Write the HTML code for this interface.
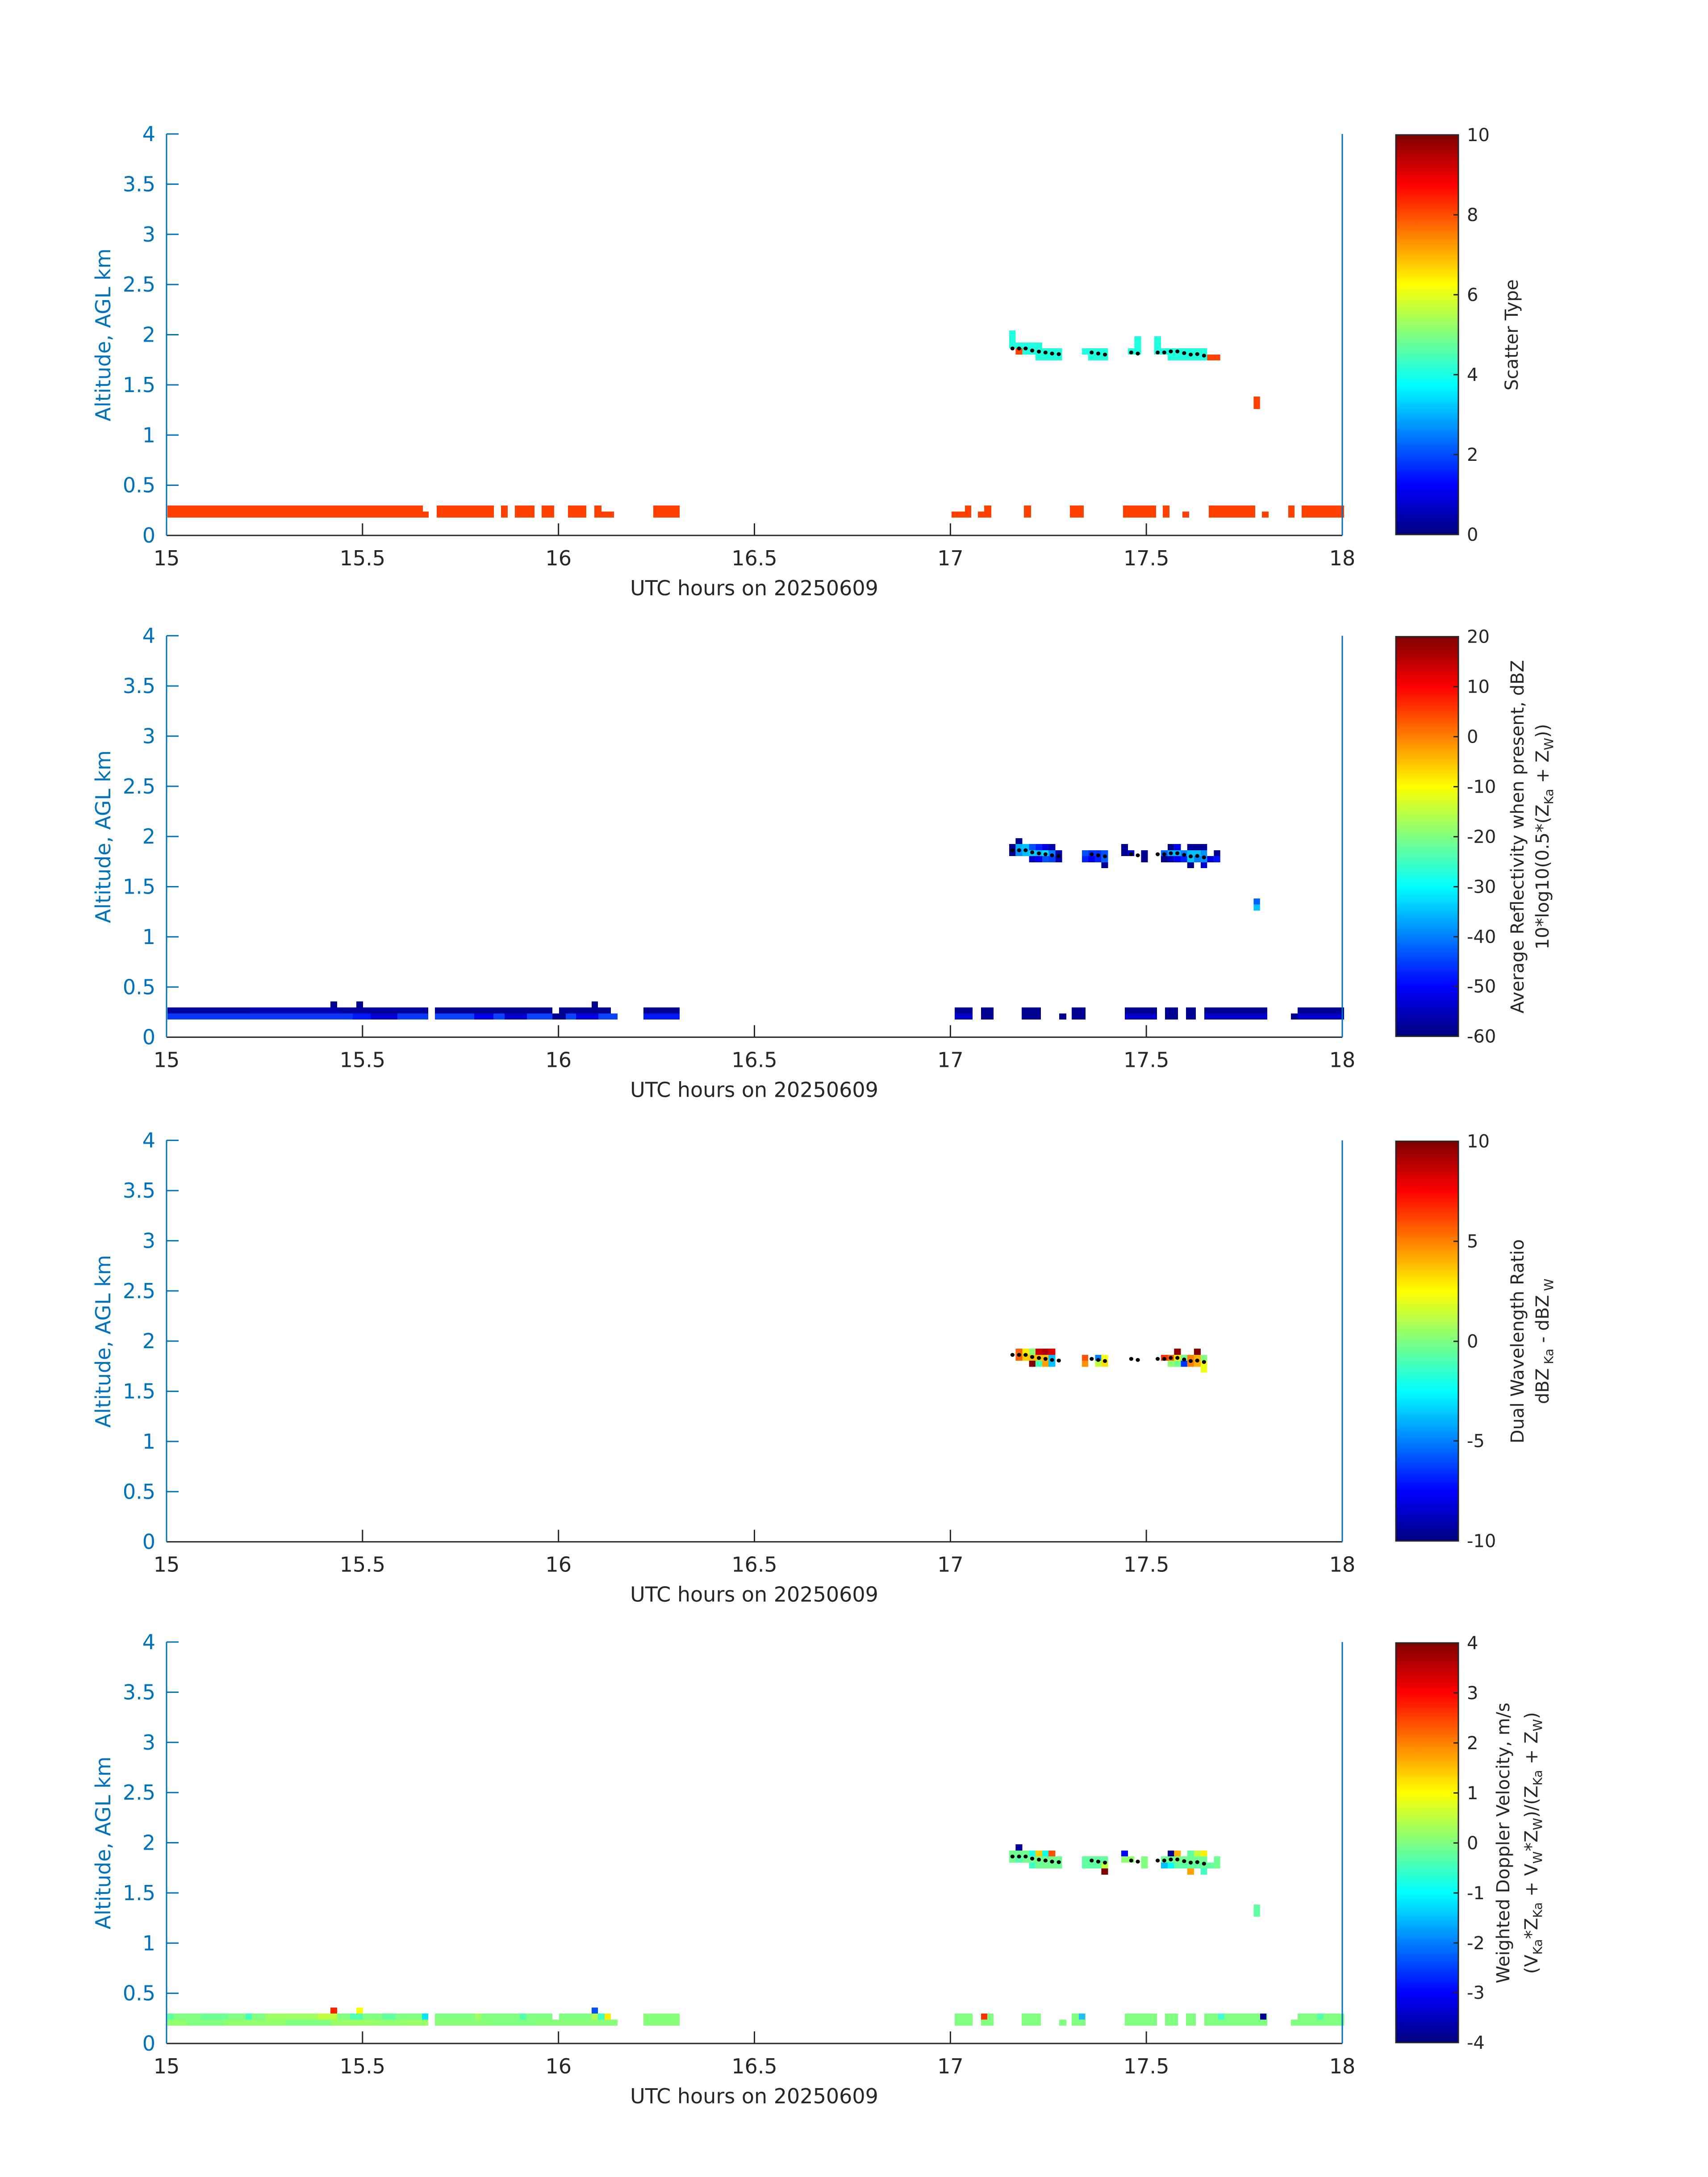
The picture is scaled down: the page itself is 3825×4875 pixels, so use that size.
<!DOCTYPE html>
<html><head><meta charset="utf-8"><style>
html,body{margin:0;padding:0;background:#fff}
svg{display:block}
text{font-family:"DejaVu Sans","Liberation Sans",sans-serif}
.yt{fill:#0072BD;font-size:46px;text-anchor:end}
.xt{fill:#262626;font-size:46px;text-anchor:middle}
.ct{fill:#262626;font-size:40px}
.cl{fill:#262626;font-size:40px;text-anchor:middle}
</style></head><body>
<svg width="3825" height="4875" viewBox="0 0 3825 4875" xmlns="http://www.w3.org/2000/svg">
<defs>
<linearGradient id="jet" x1="0" y1="1" x2="0" y2="0">
<stop offset="0" stop-color="#00007f"/><stop offset="0.125" stop-color="#0000ff"/>
<stop offset="0.375" stop-color="#00ffff"/><stop offset="0.625" stop-color="#ffff00"/>
<stop offset="0.875" stop-color="#ff0000"/><stop offset="1" stop-color="#7f0000"/>
</linearGradient>
<g id="dots" fill="#000">
<g transform="translate(2250,700) scale(0.3871,0.3333)">
<ellipse cx="45" cy="241" rx="12" ry="13"/><ellipse cx="83" cy="241" rx="12" ry="13"/><ellipse cx="121" cy="241" rx="12" ry="13"/><ellipse cx="159" cy="255" rx="12" ry="13"/><ellipse cx="198" cy="262" rx="12" ry="13"/><ellipse cx="236" cy="268" rx="12" ry="13"/><ellipse cx="274" cy="275" rx="12" ry="13"/><ellipse cx="313" cy="279" rx="12" ry="13"/><ellipse cx="503" cy="268" rx="12" ry="13"/><ellipse cx="541" cy="275" rx="12" ry="13"/><ellipse cx="580" cy="282" rx="12" ry="13"/><ellipse cx="732" cy="268" rx="12" ry="13"/><ellipse cx="770" cy="275" rx="12" ry="13"/><ellipse cx="885" cy="268" rx="12" ry="13"/><ellipse cx="923" cy="268" rx="12" ry="13"/><ellipse cx="961" cy="261" rx="12" ry="13"/><ellipse cx="999" cy="261" rx="12" ry="13"/><ellipse cx="1038" cy="272" rx="12" ry="13"/><ellipse cx="1076" cy="282" rx="12" ry="13"/><ellipse cx="1114" cy="279" rx="12" ry="13"/><ellipse cx="1153" cy="289" rx="12" ry="13"/>
</g></g>
</defs>
<rect width="3825" height="4875" fill="#fff"/>

<!-- ============ PANEL 1 DATA ============ -->
<g fill="#ff4000">
<rect x="375" y="1132" width="572" height="27"/><rect x="947" y="1145.5" width="13" height="13.5"/>
<rect x="978" y="1132" width="128" height="27"/><rect x="1122" y="1132" width="15" height="27"/>
<rect x="1153" y="1132" width="44" height="27"/><rect x="1213" y="1132" width="28" height="27"/>
<rect x="1272" y="1132" width="41" height="27"/><rect x="1331" y="1132" width="16" height="27"/>
<rect x="1347" y="1145.5" width="28" height="13.5"/><rect x="1463" y="1132" width="59" height="27"/>
<rect x="2131" y="1145.5" width="30" height="13.5"/><rect x="2161" y="1132" width="14" height="27"/>
<rect x="2190" y="1145.5" width="14" height="13.5"/><rect x="2204" y="1132" width="16" height="27"/>
<rect x="2293" y="1132" width="16" height="27"/><rect x="2396" y="1132" width="31" height="27"/>
<rect x="2515" y="1132" width="74" height="27"/><rect x="2604" y="1132" width="15" height="27"/>
<rect x="2648" y="1145.5" width="15" height="13.5"/><rect x="2707" y="1132" width="104" height="27"/>
<rect x="2826" y="1145.5" width="15" height="13.5"/><rect x="2885" y="1132" width="14" height="27"/>
<rect x="2915" y="1132" width="95" height="27"/>
</g>
<g transform="translate(2250,700) scale(0.3871,0.3333)">
<g fill="#1effe0">
<rect x="26" y="120" width="37" height="120"/><rect x="63" y="201" width="154" height="39"/>
<rect x="102" y="240" width="230" height="42"/><rect x="178" y="282" width="154" height="39"/>
<rect x="447" y="240" width="151" height="42"/><rect x="483" y="282" width="115" height="39"/>
<rect x="713" y="240" width="76" height="42"/><rect x="750" y="159" width="39" height="81"/>
<rect x="865" y="159" width="39" height="81"/><rect x="865" y="240" width="306" height="42"/>
<rect x="943" y="282" width="228" height="39"/>
</g>
<g fill="#ff4000">
<rect x="63" y="240" width="39" height="42"/><rect x="1171" y="282" width="76" height="39"/>
<rect x="1440" y="564" width="37" height="84"/>
</g></g>
<use href="#dots"/>

<!-- ============ PANEL 2 DATA ============ -->
<g>
<rect x="375" y="2256" width="584" height="13.5" fill="#00009c"/>
<rect x="375" y="2269.5" width="584" height="13.5" fill="#0a38ff"/>
<rect x="560" y="2256" width="200" height="13.5" fill="#0000b0"/>
<rect x="790" y="2269.5" width="60" height="13.5" fill="#0018ff"/>
<rect x="830" y="2269.5" width="60" height="13.5" fill="#0000d0"/>
<rect x="974" y="2256" width="263" height="13.5" fill="#000090"/>
<rect x="974" y="2269.5" width="409" height="13.5" fill="#0a40ff"/>
<rect x="1062" y="2269.5" width="43" height="13.5" fill="#0000e8"/>
<rect x="1130" y="2269.5" width="50" height="13.5" fill="#0000c8"/>
<rect x="1237" y="2269.5" width="30" height="13.5" fill="#000090"/>
<rect x="1252" y="2256" width="116" height="13.5" fill="#000090"/>
<rect x="1290" y="2269.5" width="50" height="13.5" fill="#0000e0"/>
<rect x="1441" y="2256" width="81" height="13.5" fill="#000090"/>
<rect x="1441" y="2269.5" width="81" height="13.5" fill="#0018ff"/>
<g fill="#000090">
<rect x="740" y="2242.5" width="15" height="13.5"/><rect x="798" y="2242.5" width="15" height="13.5"/><rect x="1325" y="2242.5" width="14" height="13.5"/>
<rect x="2138" y="2256" width="40" height="27"/><rect x="2197" y="2256" width="28" height="27"/>
<rect x="2288" y="2256" width="43" height="27"/><rect x="2372" y="2269.5" width="16" height="13.5"/>
<rect x="2400" y="2256" width="31" height="27"/><rect x="2519" y="2256" width="72" height="27"/>
<rect x="2609" y="2256" width="29" height="27"/><rect x="2656" y="2256" width="22" height="27"/>
<rect x="2697" y="2256" width="141" height="27"/><rect x="2891" y="2269.5" width="15" height="13.5"/>
<rect x="2906" y="2256" width="104" height="27"/>
</g>
<g fill="#0000c8">
<rect x="2138" y="2269.5" width="40" height="13.5"/><rect x="2519" y="2269.5" width="72" height="13.5"/>
<rect x="2697" y="2269.5" width="141" height="13.5"/><rect x="2906" y="2269.5" width="104" height="13.5"/>
</g>
</g>
<g transform="translate(2250,1850) scale(0.3871,0.3333)">
<rect x="63" y="81" width="39" height="39" fill="#000090"/>
<rect x="26" y="120" width="37" height="81" fill="#000090"/>
<rect x="63" y="120" width="39" height="42" fill="#00b0ff"/><rect x="102" y="120" width="39" height="42" fill="#00c0ff"/>
<rect x="141" y="120" width="37" height="42" fill="#0050ff"/><rect x="178" y="120" width="39" height="42" fill="#0020ff"/>
<rect x="217" y="120" width="36" height="42" fill="#0000e0"/><rect x="253" y="120" width="40" height="42" fill="#0000b0"/>
<rect x="63" y="162" width="39" height="39" fill="#0090ff"/><rect x="102" y="162" width="39" height="39" fill="#00c0ff"/>
<rect x="141" y="162" width="37" height="39" fill="#00d0ff"/><rect x="178" y="162" width="39" height="39" fill="#00c0ff"/>
<rect x="217" y="162" width="36" height="39" fill="#00e0ff"/><rect x="253" y="162" width="40" height="39" fill="#0080ff"/>
<rect x="293" y="162" width="39" height="81" fill="#0000b0"/>
<rect x="141" y="201" width="37" height="42" fill="#0000d0"/><rect x="178" y="201" width="39" height="42" fill="#0000f0"/>
<rect x="217" y="201" width="36" height="42" fill="#0050ff"/><rect x="253" y="201" width="40" height="42" fill="#0040ff"/>
<rect x="447" y="162" width="36" height="39" fill="#0050ff"/><rect x="483" y="162" width="40" height="39" fill="#0030ff"/>
<rect x="523" y="162" width="36" height="39" fill="#0030ff"/><rect x="559" y="162" width="39" height="39" fill="#0050ff"/>
<rect x="447" y="201" width="36" height="42" fill="#0020ff"/><rect x="483" y="201" width="40" height="42" fill="#0000f0"/>
<rect x="523" y="201" width="36" height="42" fill="#0020ff"/><rect x="559" y="201" width="39" height="42" fill="#0060ff"/>
<rect x="559" y="243" width="39" height="39" fill="#000090"/>
<rect x="674" y="120" width="39" height="81" fill="#000090"/><rect x="713" y="162" width="37" height="39" fill="#0000d0"/>
<rect x="789" y="162" width="39" height="81" fill="#000090"/>
<rect x="943" y="120" width="37" height="42" fill="#000090"/><rect x="980" y="120" width="39" height="42" fill="#0000f0"/>
<rect x="1056" y="120" width="115" height="42" fill="#000098"/>
<rect x="904" y="162" width="39" height="39" fill="#0060ff"/><rect x="943" y="162" width="76" height="39" fill="#00b0ff"/>
<rect x="1019" y="162" width="37" height="39" fill="#0080ff"/><rect x="1056" y="162" width="78" height="39" fill="#00c0ff"/>
<rect x="1134" y="162" width="37" height="39" fill="#0090ff"/><rect x="1210" y="162" width="37" height="39" fill="#000090"/>
<rect x="904" y="201" width="39" height="42" fill="#000090"/><rect x="943" y="201" width="37" height="42" fill="#0000c0"/>
<rect x="980" y="201" width="39" height="42" fill="#0000ff"/><rect x="1019" y="201" width="37" height="42" fill="#0020ff"/>
<rect x="1056" y="201" width="39" height="42" fill="#00c0ff"/><rect x="1095" y="201" width="39" height="42" fill="#0080ff"/>
<rect x="1134" y="201" width="37" height="42" fill="#0090ff"/><rect x="1171" y="201" width="39" height="42" fill="#0000e0"/>
<rect x="1210" y="201" width="37" height="42" fill="#0010ff"/>
<rect x="1056" y="243" width="39" height="39" fill="#000090"/><rect x="1134" y="243" width="37" height="39" fill="#0000d0"/>
<rect x="1440" y="486" width="37" height="41" fill="#0060ff"/><rect x="1440" y="527" width="37" height="40" fill="#00c0ff"/>
</g>
<use href="#dots" transform="translate(0,1123.67)"/>

<!-- ============ PANEL 3 DATA ============ -->
<g transform="translate(2250,3000) scale(0.3871,0.3333)">
<rect x="63" y="60" width="39" height="81" fill="#ff6000"/>
<rect x="102" y="60" width="39" height="42" fill="#ffee00"/><rect x="141" y="60" width="37" height="42" fill="#90ff70"/>
<rect x="178" y="60" width="39" height="42" fill="#d00000"/><rect x="217" y="60" width="36" height="42" fill="#b00000"/>
<rect x="253" y="60" width="40" height="42" fill="#e00000"/>
<rect x="102" y="102" width="39" height="39" fill="#ffcc00"/><rect x="141" y="102" width="112" height="39" fill="#ffc000"/>
<rect x="253" y="102" width="40" height="80" fill="#00c0ff"/>
<rect x="141" y="141" width="37" height="41" fill="#800000"/><rect x="178" y="141" width="39" height="41" fill="#40ffc0"/>
<rect x="217" y="141" width="36" height="41" fill="#ffa000"/>
<rect x="447" y="102" width="36" height="39" fill="#ff5000"/><rect x="447" y="141" width="36" height="41" fill="#ff9000"/>
<rect x="523" y="102" width="36" height="39" fill="#0080ff"/><rect x="559" y="102" width="39" height="39" fill="#ffff10"/>
<rect x="523" y="141" width="36" height="41" fill="#c0ff40"/><rect x="559" y="141" width="39" height="41" fill="#ffe000"/>
<rect x="980" y="60" width="39" height="42" fill="#900000"/><rect x="1095" y="60" width="39" height="42" fill="#800000"/>
<rect x="904" y="102" width="39" height="39" fill="#ff3000"/><rect x="943" y="102" width="37" height="39" fill="#ff6000"/>
<rect x="980" y="102" width="39" height="39" fill="#ffee00"/><rect x="1019" y="102" width="37" height="39" fill="#70ff90"/>
<rect x="1056" y="102" width="39" height="80" fill="#ff8000"/><rect x="1095" y="102" width="39" height="80" fill="#ffb000"/>
<rect x="1134" y="102" width="37" height="39" fill="#80ff80"/>
<rect x="943" y="141" width="37" height="41" fill="#90ff70"/><rect x="980" y="141" width="39" height="41" fill="#70ff90"/>
<rect x="1019" y="141" width="37" height="41" fill="#0030ff"/><rect x="1134" y="141" width="37" height="80" fill="#f0ff10"/>
</g>
<use href="#dots" transform="translate(0,2253.67)"/>

<!-- ============ PANEL 4 DATA ============ -->
<g>
<rect x="375" y="4509" width="584" height="13.5" fill="#80ff80"/>
<rect x="375" y="4522.5" width="584" height="13.5" fill="#90ff70"/>
<rect x="974" y="4509" width="263" height="13.5" fill="#80ff80"/>
<rect x="974" y="4522.5" width="409" height="13.5" fill="#88ff78"/>
<rect x="1252" y="4509" width="116" height="13.5" fill="#80ff80"/>
<rect x="1441" y="4509" width="81" height="27" fill="#88ff78"/>
<rect x="375" y="4509" width="14" height="13.5" fill="#60ffa0"/>
<rect x="550" y="4509" width="14" height="13.5" fill="#40ffc0"/>
<rect x="450" y="4509" width="60" height="13.5" fill="#6cff94"/>
<rect x="594" y="4509" width="120" height="13.5" fill="#a0ff60"/>
<rect x="712" y="4509" width="43" height="13.5" fill="#c0ff40"/>
<rect x="784" y="4509" width="28" height="13.5" fill="#50ffb0"/>
<rect x="856" y="4509" width="30" height="13.5" fill="#60ffa0"/>
<rect x="945" y="4509" width="14" height="13.5" fill="#00e8ff"/>
<rect x="1064" y="4509" width="14" height="13.5" fill="#a0ff60"/>
<rect x="1164" y="4509" width="14" height="13.5" fill="#50ffb0"/>
<rect x="1325" y="4509" width="14" height="13.5" fill="#b0ff50"/>
<rect x="1339" y="4509" width="15" height="13.5" fill="#40ffc0"/>
<rect x="1354" y="4509" width="14" height="13.5" fill="#ffee00"/>
<rect x="420" y="4522.5" width="80" height="13.5" fill="#80ff80"/>
<rect x="640" y="4522.5" width="100" height="13.5" fill="#80ff80"/>
<rect x="740" y="4522.5" width="100" height="13.5" fill="#98ff68"/>
<rect x="900" y="4522.5" width="59" height="13.5" fill="#98ff68"/>
<rect x="1100" y="4522.5" width="100" height="13.5" fill="#80ff80"/>
<rect x="740" y="4495.5" width="15" height="13.5" fill="#ff2000"/>
<rect x="798" y="4495.5" width="15" height="13.5" fill="#ffff00"/>
<rect x="1325" y="4495.5" width="14" height="13.5" fill="#0050ff"/>
<g fill="#80ff80">
<rect x="2138" y="4509" width="40" height="27"/><rect x="2197" y="4509" width="28" height="27"/>
<rect x="2288" y="4509" width="43" height="27"/><rect x="2372" y="4522.5" width="16" height="13.5"/>
<rect x="2400" y="4509" width="31" height="27"/><rect x="2519" y="4509" width="72" height="27"/>
<rect x="2609" y="4509" width="29" height="27"/><rect x="2656" y="4509" width="22" height="27"/>
<rect x="2697" y="4509" width="141" height="27"/><rect x="2891" y="4522.5" width="15" height="13.5"/>
<rect x="2906" y="4509" width="104" height="27"/>
</g>
<rect x="2197" y="4509" width="14" height="13.5" fill="#ff3000"/>
<rect x="2416" y="4509" width="14" height="13.5" fill="#20c0ff"/>
<rect x="2728" y="4509" width="14" height="13.5" fill="#40ffd0"/>
<rect x="2822" y="4509" width="14" height="13.5" fill="#000090"/>
<rect x="2950" y="4509" width="14" height="13.5" fill="#50ffb0"/>
</g>
<g transform="translate(2250,4120) scale(0.3871,0.3333)">
<rect x="63" y="30" width="39" height="42" fill="#000098"/>
<rect x="26" y="72" width="115" height="39" fill="#70ff90"/><rect x="141" y="72" width="37" height="39" fill="#20ffe0"/>
<rect x="178" y="72" width="39" height="39" fill="#ffcc00"/><rect x="217" y="72" width="36" height="39" fill="#10ffe8"/>
<rect x="253" y="72" width="40" height="39" fill="#ff5000"/>
<rect x="26" y="111" width="306" height="42" fill="#70ff90"/><rect x="63" y="111" width="39" height="42" fill="#50ffb0"/>
<rect x="141" y="153" width="37" height="39" fill="#40ffc0"/><rect x="178" y="153" width="154" height="39" fill="#70ff90"/>
<rect x="447" y="111" width="151" height="81" fill="#60ffa0"/><rect x="559" y="153" width="39" height="39" fill="#c0ff30"/>
<rect x="559" y="192" width="39" height="42" fill="#800000"/>
<rect x="674" y="72" width="39" height="39" fill="#0000ff"/><rect x="674" y="111" width="76" height="42" fill="#90ff70"/>
<rect x="789" y="111" width="39" height="81" fill="#80ff80"/>
<rect x="943" y="72" width="37" height="39" fill="#000090"/><rect x="980" y="72" width="39" height="39" fill="#ffb000"/>
<rect x="1056" y="72" width="39" height="39" fill="#60ffa0"/><rect x="1095" y="72" width="39" height="39" fill="#c0ff40"/>
<rect x="1134" y="72" width="37" height="39" fill="#ffee00"/>
<rect x="904" y="111" width="267" height="42" fill="#70ff90"/><rect x="1210" y="111" width="37" height="81" fill="#70ff90"/>
<rect x="904" y="153" width="39" height="39" fill="#00c0ff"/><rect x="943" y="153" width="37" height="39" fill="#00ffff"/>
<rect x="980" y="153" width="230" height="39" fill="#60ffa0"/>
<rect x="1056" y="192" width="39" height="42" fill="#ffa000"/><rect x="1134" y="192" width="37" height="42" fill="#40ffc0"/>
<rect x="1440" y="435" width="37" height="81" fill="#60ffa0"/>
</g>
<use href="#dots" transform="translate(0,3377)"/>

<!-- ============ AXES (4 panels) ============ -->
<!-- Panel 1 -->
<g>
<line x1="373" y1="1199" x2="3006" y2="1199" stroke="#262626" stroke-width="3"/>
<line x1="373" y1="300" x2="373" y2="1199" stroke="#0072BD" stroke-width="3"/>
<line x1="3006" y1="300" x2="3006" y2="1199" stroke="#0072BD" stroke-width="3"/>
<g stroke="#0072BD" stroke-width="3">
<line x1="373" x2="400" y1="1086.6" y2="1086.6"/><line x1="373" x2="400" y1="974.25" y2="974.25"/><line x1="373" x2="400" y1="861.9" y2="861.9"/><line x1="373" x2="400" y1="749.5" y2="749.5"/><line x1="373" x2="400" y1="637.1" y2="637.1"/><line x1="373" x2="400" y1="524.75" y2="524.75"/><line x1="373" x2="400" y1="412.4" y2="412.4"/><line x1="373" x2="400" y1="300" y2="300"/>
</g>
<g stroke="#262626" stroke-width="3">
<line x1="811.8" x2="811.8" y1="1199" y2="1172"/><line x1="1250.7" x2="1250.7" y1="1199" y2="1172"/><line x1="1689.5" x2="1689.5" y1="1199" y2="1172"/><line x1="2128.4" x2="2128.4" y1="1199" y2="1172"/><line x1="2567.2" x2="2567.2" y1="1199" y2="1172"/>
</g>
<g class="yt"><text x="348" y="1215">0</text><text x="348" y="1102.6">0.5</text><text x="348" y="990.25">1</text><text x="348" y="877.9">1.5</text><text x="348" y="765.5">2</text><text x="348" y="653.1">2.5</text><text x="348" y="540.75">3</text><text x="348" y="428.4">3.5</text><text x="348" y="316">4</text></g>
<g class="xt"><text x="373" y="1266">15</text><text x="811.8" y="1266">15.5</text><text x="1250.7" y="1266">16</text><text x="1689.5" y="1266">16.5</text><text x="2128.4" y="1266">17</text><text x="2567.2" y="1266">17.5</text><text x="3006" y="1266">18</text></g>
<text class="xt" x="1689" y="1333">UTC hours on 20250609</text>
<text class="yt" style="text-anchor:middle" transform="translate(247,750) rotate(-90)">Altitude, AGL km</text>
<rect x="3126" y="302" width="140" height="895" fill="url(#jet)" stroke="#262626" stroke-width="3"/>
<g stroke="#262626" stroke-width="3"><line x1="3255" x2="3266" y1="1018" y2="1018"/><line x1="3255" x2="3266" y1="839" y2="839"/><line x1="3255" x2="3266" y1="660" y2="660"/><line x1="3255" x2="3266" y1="481" y2="481"/></g>
<g class="ct"><text x="3285" y="1211">0</text><text x="3285" y="1032">2</text><text x="3285" y="853">4</text><text x="3285" y="674">6</text><text x="3285" y="495">8</text><text x="3285" y="316">10</text></g>
<text class="cl" transform="translate(3399,750) rotate(-90)">Scatter Type</text>
</g>

<!-- Panel 2 -->
<g transform="translate(0,1123.67)">
<line x1="373" y1="1199" x2="3006" y2="1199" stroke="#262626" stroke-width="3"/>
<line x1="373" y1="300" x2="373" y2="1199" stroke="#0072BD" stroke-width="3"/>
<line x1="3006" y1="300" x2="3006" y2="1199" stroke="#0072BD" stroke-width="3"/>
<g stroke="#0072BD" stroke-width="3">
<line x1="373" x2="400" y1="1086.6" y2="1086.6"/><line x1="373" x2="400" y1="974.25" y2="974.25"/><line x1="373" x2="400" y1="861.9" y2="861.9"/><line x1="373" x2="400" y1="749.5" y2="749.5"/><line x1="373" x2="400" y1="637.1" y2="637.1"/><line x1="373" x2="400" y1="524.75" y2="524.75"/><line x1="373" x2="400" y1="412.4" y2="412.4"/><line x1="373" x2="400" y1="300" y2="300"/>
</g>
<g stroke="#262626" stroke-width="3">
<line x1="811.8" x2="811.8" y1="1199" y2="1172"/><line x1="1250.7" x2="1250.7" y1="1199" y2="1172"/><line x1="1689.5" x2="1689.5" y1="1199" y2="1172"/><line x1="2128.4" x2="2128.4" y1="1199" y2="1172"/><line x1="2567.2" x2="2567.2" y1="1199" y2="1172"/>
</g>
<g class="yt"><text x="348" y="1215">0</text><text x="348" y="1102.6">0.5</text><text x="348" y="990.25">1</text><text x="348" y="877.9">1.5</text><text x="348" y="765.5">2</text><text x="348" y="653.1">2.5</text><text x="348" y="540.75">3</text><text x="348" y="428.4">3.5</text><text x="348" y="316">4</text></g>
<g class="xt"><text x="373" y="1266">15</text><text x="811.8" y="1266">15.5</text><text x="1250.7" y="1266">16</text><text x="1689.5" y="1266">16.5</text><text x="2128.4" y="1266">17</text><text x="2567.2" y="1266">17.5</text><text x="3006" y="1266">18</text></g>
<text class="xt" x="1689" y="1333">UTC hours on 20250609</text>
<text class="yt" style="text-anchor:middle" transform="translate(247,750) rotate(-90)">Altitude, AGL km</text>
<rect x="3126" y="302" width="140" height="895" fill="url(#jet)" stroke="#262626" stroke-width="3"/>
<g stroke="#262626" stroke-width="3"><line x1="3255" x2="3266" y1="1085" y2="1085"/><line x1="3255" x2="3266" y1="974" y2="974"/><line x1="3255" x2="3266" y1="862" y2="862"/><line x1="3255" x2="3266" y1="750" y2="750"/><line x1="3255" x2="3266" y1="638" y2="638"/><line x1="3255" x2="3266" y1="526" y2="526"/><line x1="3255" x2="3266" y1="414" y2="414"/></g>
<g class="ct"><text x="3285" y="1211">-60</text><text x="3285" y="1099">-50</text><text x="3285" y="988">-40</text><text x="3285" y="876">-30</text><text x="3285" y="764">-20</text><text x="3285" y="652">-10</text><text x="3285" y="540">0</text><text x="3285" y="428">10</text><text x="3285" y="316">20</text></g>
<text class="cl" transform="translate(3412,750) rotate(-90)">Average Reflectivity when present, dBZ</text>
<text class="cl" transform="translate(3468,750) rotate(-90)">10*log10(0.5*(Z<tspan font-size="28" dy="10">Ka</tspan><tspan dy="-10"> + Z</tspan><tspan font-size="28" dy="10">W</tspan><tspan dy="-10">))</tspan></text>
</g>

<!-- Panel 3 -->
<g transform="translate(0,2253.67)">
<line x1="373" y1="1199" x2="3006" y2="1199" stroke="#262626" stroke-width="3"/>
<line x1="373" y1="300" x2="373" y2="1199" stroke="#0072BD" stroke-width="3"/>
<line x1="3006" y1="300" x2="3006" y2="1199" stroke="#0072BD" stroke-width="3"/>
<g stroke="#0072BD" stroke-width="3">
<line x1="373" x2="400" y1="1086.6" y2="1086.6"/><line x1="373" x2="400" y1="974.25" y2="974.25"/><line x1="373" x2="400" y1="861.9" y2="861.9"/><line x1="373" x2="400" y1="749.5" y2="749.5"/><line x1="373" x2="400" y1="637.1" y2="637.1"/><line x1="373" x2="400" y1="524.75" y2="524.75"/><line x1="373" x2="400" y1="412.4" y2="412.4"/><line x1="373" x2="400" y1="300" y2="300"/>
</g>
<g stroke="#262626" stroke-width="3">
<line x1="811.8" x2="811.8" y1="1199" y2="1172"/><line x1="1250.7" x2="1250.7" y1="1199" y2="1172"/><line x1="1689.5" x2="1689.5" y1="1199" y2="1172"/><line x1="2128.4" x2="2128.4" y1="1199" y2="1172"/><line x1="2567.2" x2="2567.2" y1="1199" y2="1172"/>
</g>
<g class="yt"><text x="348" y="1215">0</text><text x="348" y="1102.6">0.5</text><text x="348" y="990.25">1</text><text x="348" y="877.9">1.5</text><text x="348" y="765.5">2</text><text x="348" y="653.1">2.5</text><text x="348" y="540.75">3</text><text x="348" y="428.4">3.5</text><text x="348" y="316">4</text></g>
<g class="xt"><text x="373" y="1266">15</text><text x="811.8" y="1266">15.5</text><text x="1250.7" y="1266">16</text><text x="1689.5" y="1266">16.5</text><text x="2128.4" y="1266">17</text><text x="2567.2" y="1266">17.5</text><text x="3006" y="1266">18</text></g>
<text class="xt" x="1689" y="1333">UTC hours on 20250609</text>
<text class="yt" style="text-anchor:middle" transform="translate(247,750) rotate(-90)">Altitude, AGL km</text>
<rect x="3126" y="302" width="140" height="895" fill="url(#jet)" stroke="#262626" stroke-width="3"/>
<g stroke="#262626" stroke-width="3"><line x1="3255" x2="3266" y1="973" y2="973"/><line x1="3255" x2="3266" y1="750" y2="750"/><line x1="3255" x2="3266" y1="526" y2="526"/></g>
<g class="ct"><text x="3285" y="1211">-10</text><text x="3285" y="987">-5</text><text x="3285" y="764">0</text><text x="3285" y="540">5</text><text x="3285" y="316">10</text></g>
<text class="cl" transform="translate(3412,750) rotate(-90)">Dual Wavelength Ratio</text>
<text class="cl" transform="translate(3468,750) rotate(-90)">dBZ<tspan font-size="28" dy="10"> Ka</tspan><tspan dy="-10"> - dBZ</tspan><tspan font-size="28" dy="10"> W</tspan></text>
</g>

<!-- Panel 4 -->
<g transform="translate(0,3377)">
<line x1="373" y1="1199" x2="3006" y2="1199" stroke="#262626" stroke-width="3"/>
<line x1="373" y1="300" x2="373" y2="1199" stroke="#0072BD" stroke-width="3"/>
<line x1="3006" y1="300" x2="3006" y2="1199" stroke="#0072BD" stroke-width="3"/>
<g stroke="#0072BD" stroke-width="3">
<line x1="373" x2="400" y1="1086.6" y2="1086.6"/><line x1="373" x2="400" y1="974.25" y2="974.25"/><line x1="373" x2="400" y1="861.9" y2="861.9"/><line x1="373" x2="400" y1="749.5" y2="749.5"/><line x1="373" x2="400" y1="637.1" y2="637.1"/><line x1="373" x2="400" y1="524.75" y2="524.75"/><line x1="373" x2="400" y1="412.4" y2="412.4"/><line x1="373" x2="400" y1="300" y2="300"/>
</g>
<g stroke="#262626" stroke-width="3">
<line x1="811.8" x2="811.8" y1="1199" y2="1172"/><line x1="1250.7" x2="1250.7" y1="1199" y2="1172"/><line x1="1689.5" x2="1689.5" y1="1199" y2="1172"/><line x1="2128.4" x2="2128.4" y1="1199" y2="1172"/><line x1="2567.2" x2="2567.2" y1="1199" y2="1172"/>
</g>
<g class="yt"><text x="348" y="1215">0</text><text x="348" y="1102.6">0.5</text><text x="348" y="990.25">1</text><text x="348" y="877.9">1.5</text><text x="348" y="765.5">2</text><text x="348" y="653.1">2.5</text><text x="348" y="540.75">3</text><text x="348" y="428.4">3.5</text><text x="348" y="316">4</text></g>
<g class="xt"><text x="373" y="1266">15</text><text x="811.8" y="1266">15.5</text><text x="1250.7" y="1266">16</text><text x="1689.5" y="1266">16.5</text><text x="2128.4" y="1266">17</text><text x="2567.2" y="1266">17.5</text><text x="3006" y="1266">18</text></g>
<text class="xt" x="1689" y="1333">UTC hours on 20250609</text>
<text class="yt" style="text-anchor:middle" transform="translate(247,750) rotate(-90)">Altitude, AGL km</text>
<rect x="3126" y="302" width="140" height="895" fill="url(#jet)" stroke="#262626" stroke-width="3"/>
<g stroke="#262626" stroke-width="3"><line x1="3255" x2="3266" y1="1085" y2="1085"/><line x1="3255" x2="3266" y1="974" y2="974"/><line x1="3255" x2="3266" y1="862" y2="862"/><line x1="3255" x2="3266" y1="750" y2="750"/><line x1="3255" x2="3266" y1="638" y2="638"/><line x1="3255" x2="3266" y1="526" y2="526"/><line x1="3255" x2="3266" y1="414" y2="414"/></g>
<g class="ct"><text x="3285" y="1211">-4</text><text x="3285" y="1099">-3</text><text x="3285" y="988">-2</text><text x="3285" y="876">-1</text><text x="3285" y="764">0</text><text x="3285" y="652">1</text><text x="3285" y="540">2</text><text x="3285" y="428">3</text><text x="3285" y="316">4</text></g>
<text class="cl" transform="translate(3380,750) rotate(-90)">Weighted Doppler Velocity, m/s</text>
<text class="cl" transform="translate(3443,750) rotate(-90)">(V<tspan font-size="28" dy="10">Ka</tspan><tspan dy="-10">*Z</tspan><tspan font-size="28" dy="10">Ka</tspan><tspan dy="-10"> + V</tspan><tspan font-size="28" dy="10">W</tspan><tspan dy="-10">*Z</tspan><tspan font-size="28" dy="10">W</tspan><tspan dy="-10">)/(Z</tspan><tspan font-size="28" dy="10">Ka</tspan><tspan dy="-10"> + Z</tspan><tspan font-size="28" dy="10">W</tspan><tspan dy="-10">)</tspan></text>
</g>
</svg>
</body></html>
